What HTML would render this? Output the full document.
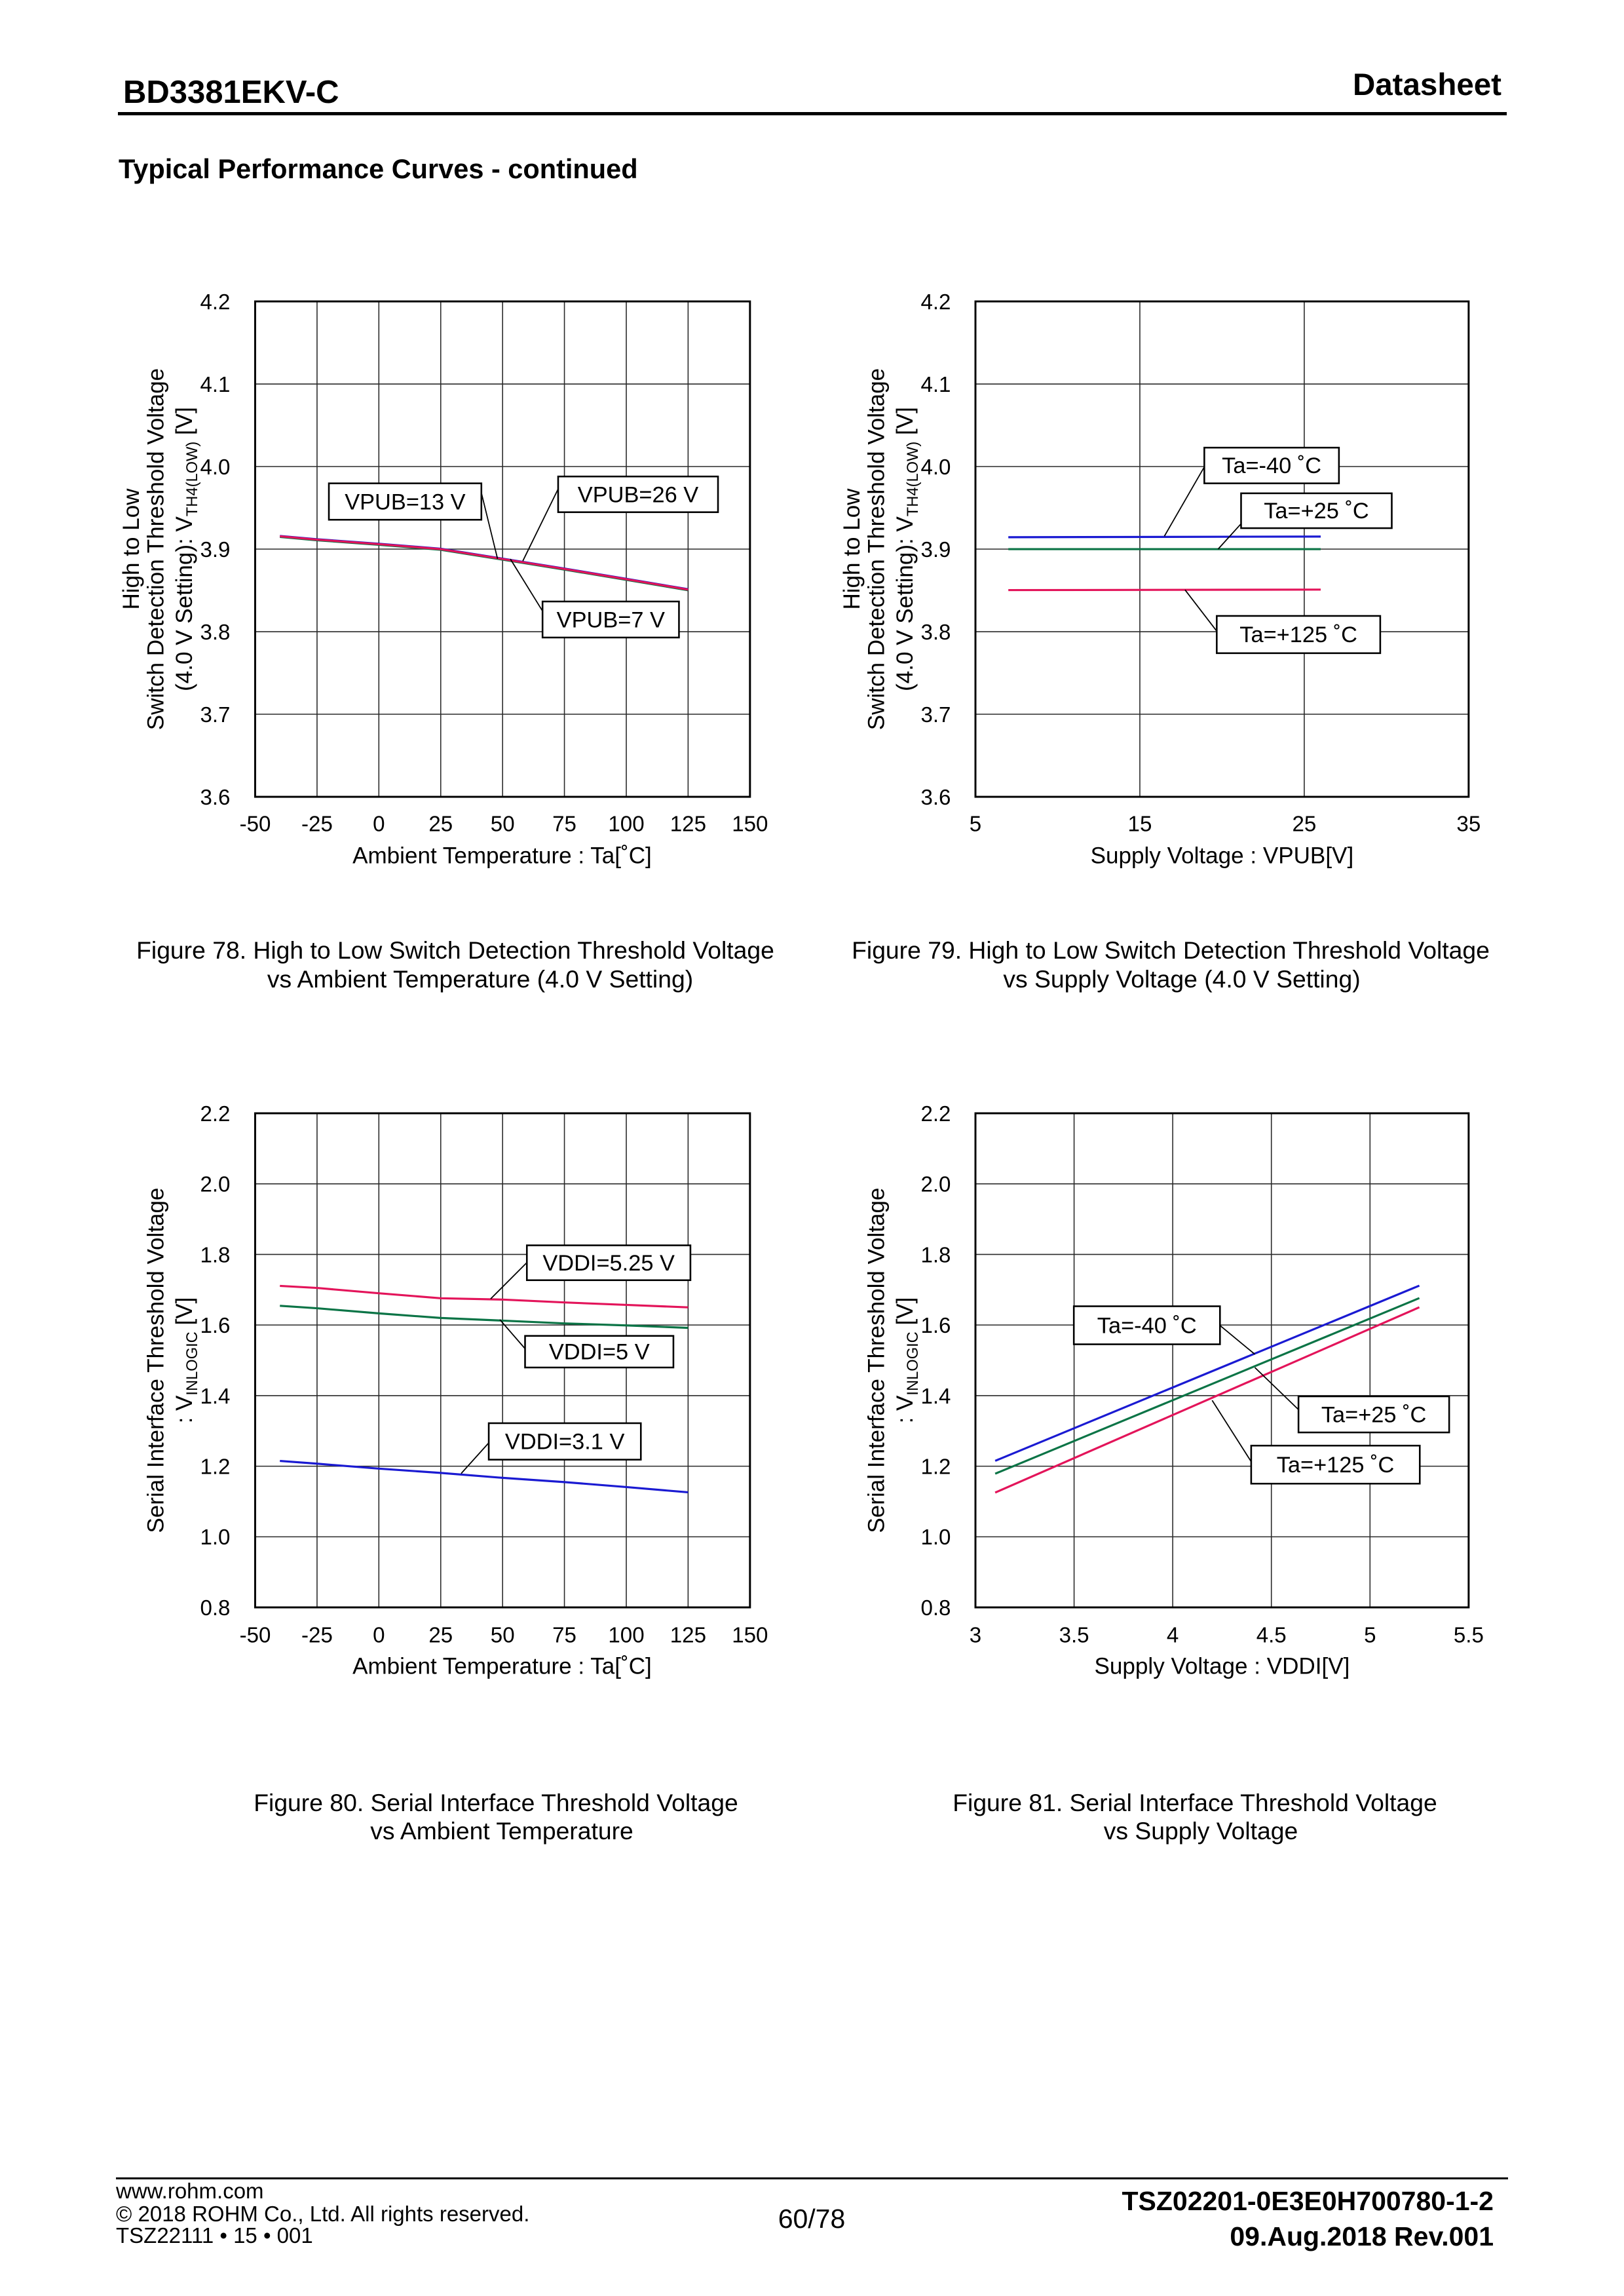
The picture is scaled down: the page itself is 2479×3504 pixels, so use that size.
<!DOCTYPE html>
<html>
<head>
<meta charset="utf-8">
<style>
  html,body{margin:0;padding:0;background:#fff;}
  svg{display:block;}
  text{font-family:"Liberation Sans",Arial,sans-serif;fill:#000;}
  .grid{stroke:#2a2a2a;stroke-width:1.6;fill:none;}
  .frame{stroke:#000;stroke-width:3;fill:none;}
  .tick{font-size:33.5px;}
  .title{font-size:35.5px;}
  .cbox{stroke:#000;stroke-width:2.6;fill:#fff;}
  .lead{stroke:#000;stroke-width:1.8;fill:none;}
  .clab{font-size:34.8px;}
  .cap{font-size:37.3px;}
  .red{stroke:#e3145a;stroke-width:3.2;fill:none;}
  .blue{stroke:#1a1ad2;stroke-width:3.2;fill:none;}
  .green{stroke:#0b7446;stroke-width:3.2;fill:none;}
</style>
</head>
<body>
<svg width="2479" height="3504" viewBox="0 0 2479 3504" xmlns="http://www.w3.org/2000/svg">
<rect x="0" y="0" width="2479" height="3504" fill="#fff"/>

<!-- Header -->
<text x="188" y="157" font-weight="bold" font-size="49">BD3381EKV-C</text>
<text x="2292" y="145" text-anchor="end" font-weight="bold" font-size="47.5">Datasheet</text>
<rect x="180" y="171" width="2120" height="5" fill="#000"/>
<text x="181" y="272" font-weight="bold" font-size="41.5">Typical Performance Curves - continued</text>

<!-- ================= Chart 1 (Fig 78) ================= -->
<g transform="translate(389.5,460) scale(0.988,0.987) translate(-389.5,-460)">
  <path class="grid" d="M485.1 460V1226M580.6 460V1226M676.2 460V1226M771.8 460V1226M867.3 460V1226M962.9 460V1226M1058.4 460V1226
     M389.5 587.7H1154M389.5 715.3H1154M389.5 843H1154M389.5 970.7H1154M389.5 1098.3H1154"/>
  <polyline class="green" points="427.7,824.2 485.1,829.3 580.6,836.3 676.2,844 771.8,859.3 867.4,874.7 962.9,890.5 1058.4,906.6"/>
  <polyline class="blue" points="427.7,822.6 485.1,827.7 580.6,834.7 676.2,842.4 771.8,857.7 867.4,873.1 962.9,888.9 1058.4,905"/>
  <polyline class="red" points="427.7,823.2 485.1,828.3 580.6,835.3 676.2,843 771.8,858.3 867.4,873.7 962.9,889.5 1058.4,905.6"/>
  <rect class="frame" x="389.5" y="460" width="764.5" height="766"/>
  <g class="tick" text-anchor="end">
    <text x="351" y="472">4.2</text>
    <text x="351" y="599.7">4.1</text>
    <text x="351" y="727.3">4.0</text>
    <text x="351" y="855">3.9</text>
    <text x="351" y="982.7">3.8</text>
    <text x="351" y="1110.3">3.7</text>
    <text x="351" y="1238">3.6</text>
  </g>
  <g class="tick" text-anchor="middle">
    <text x="389.5" y="1279">-50</text>
    <text x="485.1" y="1279">-25</text>
    <text x="580.6" y="1279">0</text>
    <text x="676.2" y="1279">25</text>
    <text x="771.8" y="1279">50</text>
    <text x="867.3" y="1279">75</text>
    <text x="962.9" y="1279">100</text>
    <text x="1058.4" y="1279">125</text>
    <text x="1154" y="1279">150</text>
  </g>
  <text class="title" x="771" y="1329" text-anchor="middle">Ambient Temperature : Ta[˚C]</text>
  <g class="title" text-anchor="middle">
    <text transform="translate(210,843) rotate(-90)">High to Low</text>
    <text transform="translate(248,843) rotate(-90)">Switch Detection Threshold Voltage</text>
    <text transform="translate(292,843) rotate(-90)">(4.0 V Setting): V<tspan font-size="24" dy="8">TH4(LOW)</tspan><tspan dy="-8"> [V]</tspan></text>
  </g>
  <path class="lead" d="M739 756L764 858M857.6 750L803 861.4M833.5 938.8L783.8 858.3"/>
  <rect class="cbox" x="503.4" y="741.3" width="235.6" height="56.3"/>
  <text class="clab" x="621.2" y="781.5" text-anchor="middle">VPUB=13 V</text>
  <rect class="cbox" x="857.6" y="730.7" width="247" height="55.2"/>
  <text class="clab" x="981.1" y="770.3" text-anchor="middle">VPUB=26 V</text>
  <rect class="cbox" x="833.5" y="924" width="210.8" height="55.7"/>
  <text class="clab" x="938.9" y="963.9" text-anchor="middle">VPUB=7 V</text>
</g>

<!-- ================= Chart 2 (Fig 79) ================= -->
<g transform="translate(1489,460) scale(0.988,0.987) translate(-1489,-460)">
  <path class="grid" d="M1743 460V1226M1997 460V1226
     M1489 587.7H2251M1489 715.3H2251M1489 843H2251M1489 970.7H2251M1489 1098.3H2251"/>
  <polyline class="blue" points="1539.8,824.6 2022.4,823.6"/>
  <polyline class="green" points="1539.8,843 2022.4,843"/>
  <polyline class="red" points="1539.8,906.4 2022.4,905.6"/>
  <rect class="frame" x="1489" y="460" width="762" height="766"/>
  <g class="tick" text-anchor="end">
    <text x="1451" y="472">4.2</text>
    <text x="1451" y="599.7">4.1</text>
    <text x="1451" y="727.3">4.0</text>
    <text x="1451" y="855">3.9</text>
    <text x="1451" y="982.7">3.8</text>
    <text x="1451" y="1110.3">3.7</text>
    <text x="1451" y="1238">3.6</text>
  </g>
  <g class="tick" text-anchor="middle">
    <text x="1489" y="1279">5</text>
    <text x="1743" y="1279">15</text>
    <text x="1997" y="1279">25</text>
    <text x="2251" y="1279">35</text>
  </g>
  <text class="title" x="1870" y="1329" text-anchor="middle">Supply Voltage : VPUB[V]</text>
  <g class="title" text-anchor="middle">
    <text transform="translate(1310,843) rotate(-90)">High to Low</text>
    <text transform="translate(1348,843) rotate(-90)">Switch Detection Threshold Voltage</text>
    <text transform="translate(1392,843) rotate(-90)">(4.0 V Setting): V<tspan font-size="24" dy="8">TH4(LOW)</tspan><tspan dy="-8"> [V]</tspan></text>
  </g>
  <path class="lead" d="M1842.6 715.9L1780.9 823M1899.4 803.8L1863.9 843M1861.8 969.8L1812.8 906"/>
  <rect class="cbox" x="1842.6" y="686.1" width="208" height="55.2"/>
  <text class="clab" x="1946.6" y="725.7" text-anchor="middle">Ta=-40 ˚C</text>
  <rect class="cbox" x="1899.4" y="756.7" width="232.8" height="53.9"/>
  <text class="clab" x="2015.8" y="795.6" text-anchor="middle">Ta=+25 ˚C</text>
  <rect class="cbox" x="1861.8" y="946.3" width="252.6" height="57.6"/>
  <text class="clab" x="1988.1" y="987.1" text-anchor="middle">Ta=+125 ˚C</text>
</g>

<!-- Captions row 1 -->
<text class="cap" x="695" y="1463" text-anchor="middle">Figure 78. High to Low Switch Detection Threshold Voltage</text>
<text class="cap" x="733" y="1507" text-anchor="middle">vs Ambient Temperature (4.0 V Setting)</text>
<text class="cap" x="1787" y="1463" text-anchor="middle">Figure 79. High to Low Switch Detection Threshold Voltage</text>
<text class="cap" x="1804" y="1507" text-anchor="middle">vs Supply Voltage (4.0 V Setting)</text>

<!-- ================= Chart 3 (Fig 80) ================= -->
<g transform="translate(389.5,1699) scale(0.988,0.987) translate(-389.5,-1699)">
  <path class="grid" d="M485.1 1699V2463M580.6 1699V2463M676.2 1699V2463M771.8 1699V2463M867.3 1699V2463M962.9 1699V2463M1058.4 1699V2463
     M389.5 1808.1H1154M389.5 1917.3H1154M389.5 2026.4H1154M389.5 2135.6H1154M389.5 2244.7H1154M389.5 2353.9H1154"/>
  <polyline class="red" points="427.7,1965.9 485.1,1969.1 580.6,1977.3 676.2,1985 771.8,1987.1 867.4,1991.5 962.9,1995.3 1058.4,1999.1"/>
  <polyline class="green" points="427.7,1996.7 485.1,2000.5 580.6,2008.4 676.2,2015.5 771.8,2019.6 867.4,2023.9 962.9,2027 1058.4,2030.8"/>
  <polyline class="blue" points="427.7,2236.6 485.1,2240.8 580.6,2248.5 676.2,2255.1 771.8,2262.7 867.4,2269.3 962.9,2276.9 1058.4,2285.1"/>
  <rect class="frame" x="389.5" y="1699" width="764.5" height="764"/>
  <g class="tick" text-anchor="end">
    <text x="351" y="1711">2.2</text>
    <text x="351" y="1820.1">2.0</text>
    <text x="351" y="1929.3">1.8</text>
    <text x="351" y="2038.4">1.6</text>
    <text x="351" y="2147.6">1.4</text>
    <text x="351" y="2256.7">1.2</text>
    <text x="351" y="2365.9">1.0</text>
    <text x="351" y="2475">0.8</text>
  </g>
  <g class="tick" text-anchor="middle">
    <text x="389.5" y="2517">-50</text>
    <text x="485.1" y="2517">-25</text>
    <text x="580.6" y="2517">0</text>
    <text x="676.2" y="2517">25</text>
    <text x="771.8" y="2517">50</text>
    <text x="867.3" y="2517">75</text>
    <text x="962.9" y="2517">100</text>
    <text x="1058.4" y="2517">125</text>
    <text x="1154" y="2517">150</text>
  </g>
  <text class="title" x="771" y="2566" text-anchor="middle">Ambient Temperature : Ta[˚C]</text>
  <g class="title" text-anchor="middle">
    <text transform="translate(248,2081) rotate(-90)">Serial Interface Threshold Voltage</text>
    <text transform="translate(292,2081) rotate(-90)">: V<tspan font-size="24" dy="8">INLOGIC</tspan><tspan dy="-8"> [V]</tspan></text>
  </g>
  <path class="lead" d="M809.3 1929.9L753.3 1986M806.5 2063L767.5 2018M750.4 2208.6L707.8 2256"/>
  <rect class="cbox" x="809.3" y="1903.2" width="252.7" height="53.9"/>
  <text class="clab" x="935.7" y="1942.2" text-anchor="middle">VDDI=5.25 V</text>
  <rect class="cbox" x="806.5" y="2043.2" width="229.2" height="48.9"/>
  <text class="clab" x="921.1" y="2079.7" text-anchor="middle">VDDI=5 V</text>
  <rect class="cbox" x="750.4" y="2178.2" width="235" height="56.4"/>
  <text class="clab" x="867.9" y="2218.4" text-anchor="middle">VDDI=3.1 V</text>
</g>

<!-- ================= Chart 4 (Fig 81) ================= -->
<g transform="translate(1489,1699) scale(0.988,0.987) translate(-1489,-1699)">
  <path class="grid" d="M1641.4 1699V2463M1793.8 1699V2463M1946.2 1699V2463M2098.6 1699V2463
     M1489 1808.1H2251M1489 1917.3H2251M1489 2026.4H2251M1489 2135.6H2251M1489 2244.7H2251M1489 2353.9H2251"/>
  <polyline class="blue" points="1519.5,2236.4 2174.8,1965.5"/>
  <polyline class="green" points="1519.5,2256.3 2174.8,1984.8"/>
  <polyline class="red" points="1519.5,2285.5 2174.8,1999"/>
  <rect class="frame" x="1489" y="1699" width="762" height="764"/>
  <g class="tick" text-anchor="end">
    <text x="1451" y="1711">2.2</text>
    <text x="1451" y="1820.1">2.0</text>
    <text x="1451" y="1929.3">1.8</text>
    <text x="1451" y="2038.4">1.6</text>
    <text x="1451" y="2147.6">1.4</text>
    <text x="1451" y="2256.7">1.2</text>
    <text x="1451" y="2365.9">1.0</text>
    <text x="1451" y="2475">0.8</text>
  </g>
  <g class="tick" text-anchor="middle">
    <text x="1489" y="2517">3</text>
    <text x="1641.4" y="2517">3.5</text>
    <text x="1793.8" y="2517">4</text>
    <text x="1946.2" y="2517">4.5</text>
    <text x="2098.6" y="2517">5</text>
    <text x="2251" y="2517">5.5</text>
  </g>
  <text class="title" x="1870" y="2566" text-anchor="middle">Supply Voltage : VDDI[V]</text>
  <g class="title" text-anchor="middle">
    <text transform="translate(1348,2081) rotate(-90)">Serial Interface Threshold Voltage</text>
    <text transform="translate(1392,2081) rotate(-90)">: V<tspan font-size="24" dy="8">INLOGIC</tspan><tspan dy="-8"> [V]</tspan></text>
  </g>
  <path class="lead" d="M1866.8 2027.1L1920.7 2071.7M1988.1 2157.2L1920.7 2092.1M1915 2237.7L1854.7 2142.9"/>
  <rect class="cbox" x="1641" y="1997.4" width="225.8" height="58.8"/>
  <text class="clab" x="1753.9" y="2038.8" text-anchor="middle">Ta=-40 ˚C</text>
  <rect class="cbox" x="1988.1" y="2136.7" width="232.8" height="55.8"/>
  <text class="clab" x="2104.5" y="2176.6" text-anchor="middle">Ta=+25 ˚C</text>
  <rect class="cbox" x="1915" y="2212.9" width="260.5" height="58.8"/>
  <text class="clab" x="2045.2" y="2254.3" text-anchor="middle">Ta=+125 ˚C</text>
</g>

<!-- Captions row 2 -->
<text class="cap" x="757" y="2764" text-anchor="middle">Figure 80. Serial Interface Threshold Voltage</text>
<text class="cap" x="766" y="2807" text-anchor="middle">vs Ambient Temperature</text>
<text class="cap" x="1824" y="2764" text-anchor="middle">Figure 81. Serial Interface Threshold Voltage</text>
<text class="cap" x="1833" y="2807" text-anchor="middle">vs Supply Voltage</text>

<!-- Footer -->
<rect x="177" y="3323" width="2125" height="3" fill="#000"/>
<text x="177" y="3355" font-size="33">www.rohm.com</text>
<text x="177" y="3390" font-size="33">© 2018 ROHM Co., Ltd. All rights reserved.</text>
<text x="177" y="3423" font-size="33">TSZ22111 • 15 • 001</text>
<text x="1239" y="3400" font-size="41" text-anchor="middle">60/78</text>
<text x="2280" y="3373" font-size="41" font-weight="bold" text-anchor="end">TSZ02201-0E3E0H700780-1-2</text>
<text x="2280" y="3427" font-size="41" font-weight="bold" text-anchor="end">09.Aug.2018 Rev.001</text>
</svg>
</body>
</html>
